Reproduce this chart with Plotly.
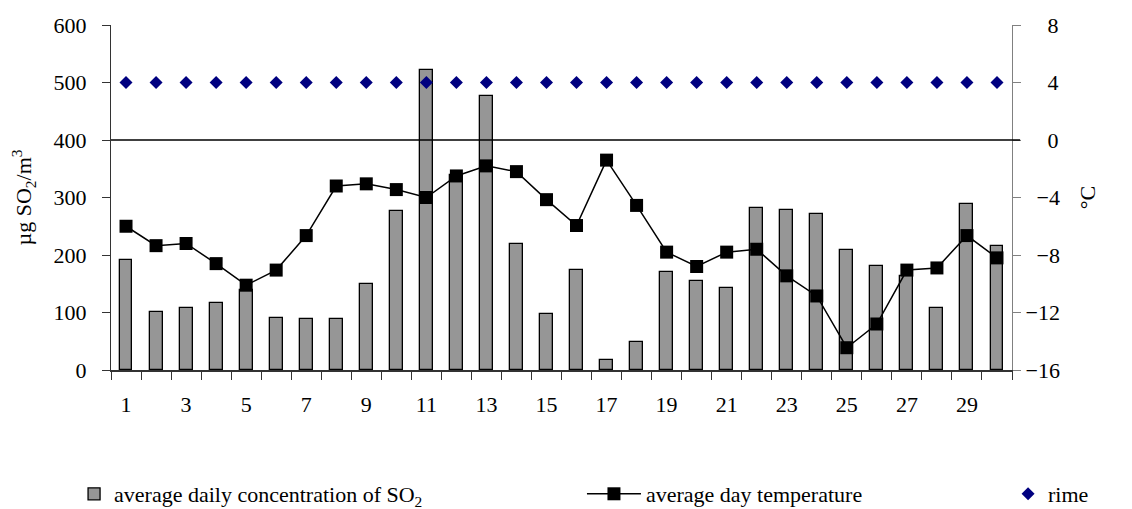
import plotly.graph_objects as go

days = list(range(1, 31))
so2 = [191, 101, 108, 116, 140, 91, 88, 88, 150, 276,
       522, 340, 477, 220, 98, 174, 18, 49, 171, 154,
       143, 282, 279, 272, 209, 181, 163, 108, 289, 216]
temp = [-6.0, -7.35, -7.2, -8.6, -10.1, -9.05, -6.65, -3.2, -3.05, -3.45,
        -4.0, -2.5, -1.8, -2.2, -4.15, -5.95, -1.4, -4.55, -7.8, -8.8,
        -7.8, -7.6, -9.45, -10.85, -14.45, -12.8, -9.05, -8.9, -6.65, -8.2]
rime = [4, 4, 4, 4, 4, 4, 4, 4, 4, 4,
        4, 4, 4, 4, 4, 4, 4, 4, 4, 4,
        4, 4, 4, 4, 4, 4, 4, 4, 4, 4]
x_labels = ["1", "3", "5", "7", "9", "11", "13", "15", "17", "19", "21", "23", "25", "27", "29"]
x_label_pos = [1, 3, 5, 7, 9, 11, 13, 15, 17, 19, 21, 23, 25, 27, 29]
left_ticks = [0, 100, 200, 300, 400, 500, 600]
right_ticks = [-16, -12, -8, -4, 0, 4, 8]
right_ticktext = ["\u221216", "\u221212", "\u2007\u22128", "\u2007\u22124", "\u2007\u20070", "\u2007\u20074", "\u2007\u20078"]

FONT = "Liberation Serif"
FS = 22
boundaries = [d - 0.5 for d in days] + [30.5]

fig = go.Figure()
fig.add_trace(go.Bar(
    x=days, y=so2, width=0.43,
    marker=dict(color="#969696", line=dict(color="black", width=1.3)),
    name="average daily concentration of SO<sub>2</sub>",
    xaxis="x", yaxis="y", legend="legend",
))
fig.add_trace(go.Scatter(
    x=days, y=temp, mode="lines+markers",
    line=dict(color="black", width=1.5),
    marker=dict(symbol="square", size=13, color="black"),
    name="average day temperature",
    xaxis="x", yaxis="y2", legend="legend2",
))
fig.add_trace(go.Scatter(
    x=days, y=rime, mode="markers",
    marker=dict(symbol="diamond", size=10, color="#000080"),
    name="rime",
    xaxis="x", yaxis="y2", legend="legend3",
))

fig.add_shape(type="line", xref="x domain", x0=0, x1=1.009, yref="y2", y0=0, y1=0,
              line=dict(color="black", width=1.6), layer="above")

axis_common = dict(showgrid=False, zeroline=False)
legend_common = dict(yref="container", y=0.0295, xanchor="left", yanchor="middle",
                     orientation="h", bgcolor="rgba(0,0,0,0)",
                     font=dict(family=FONT, size=FS, color="black"))
fig.update_layout(
    width=1132, height=509,
    margin=dict(l=111, r=120, t=25, b=139, autoexpand=False),
    paper_bgcolor="white", plot_bgcolor="white",
    font=dict(family=FONT, size=FS, color="black"),
    bargap=0,
    xaxis=dict(
        range=[0.5, 30.5], tickmode="array", tickvals=x_label_pos, ticktext=x_labels,
        ticks="", ticklabelstandoff=14,
        minor=dict(tickmode="array", tickvals=boundaries, ticks="outside", ticklen=8,
                   tickcolor="#333333", tickwidth=1, showgrid=False),
        showline=True, linecolor="#333333", linewidth=1.5,
        tickfont=dict(family=FONT, size=FS, color="black"),
        **axis_common,
    ),
    xaxis2=dict(
        overlaying="x", anchor="y", range=[0.5, 30.5], tickmode="array", tickvals=boundaries,
        ticks="inside", ticklen=8, tickcolor="#333333", tickwidth=1,
        showticklabels=False, showline=False, **axis_common,
    ),
    yaxis=dict(
        range=[0, 600], tickmode="array", tickvals=left_ticks,
        ticks="outside", ticklen=8, tickcolor="#333333", tickwidth=1,
        ticklabelstandoff=11,
        showline=True, linecolor="#333333", linewidth=1.2,
        title=dict(text="\u00b5g SO<sub>2</sub>/m<sup>3</sup>", standoff=15,
                   font=dict(family=FONT, size=FS, color="black")),
        tickfont=dict(family=FONT, size=FS, color="black"),
        **axis_common,
    ),
    yaxis3=dict(
        overlaying="y", anchor="x", side="left", range=[0, 600], tickmode="array",
        tickvals=left_ticks, ticks="inside", ticklen=8, tickcolor="#333333", tickwidth=1,
        showticklabels=False, showline=False, **axis_common,
    ),
    yaxis2=dict(
        overlaying="y", side="right", anchor="x", range=[-16, 8],
        tickmode="array", tickvals=right_ticks, ticktext=right_ticktext,
        ticks="outside", ticklen=8, tickcolor="#808080", tickwidth=1,
        showline=True, linecolor="#808080", linewidth=1.2,
        title=dict(text="\u00b0C", standoff=20,
                   font=dict(family=FONT, size=FS, color="black")),
        tickfont=dict(family=FONT, size=FS, color="black"),
        **axis_common,
    ),
    yaxis4=dict(
        overlaying="y", side="right", anchor="x", range=[-16, 8], tickmode="array",
        tickvals=right_ticks, ticks="inside", ticklen=8, tickcolor="#808080", tickwidth=1,
        showticklabels=False, showline=False, **axis_common,
    ),
    legend=dict(x=-0.041, **legend_common),
    legend2=dict(x=0.5227, itemwidth=54, **legend_common),
    legend3=dict(x=0.9956, **legend_common),
    showlegend=True,
)

fig.write_html("out.html")
